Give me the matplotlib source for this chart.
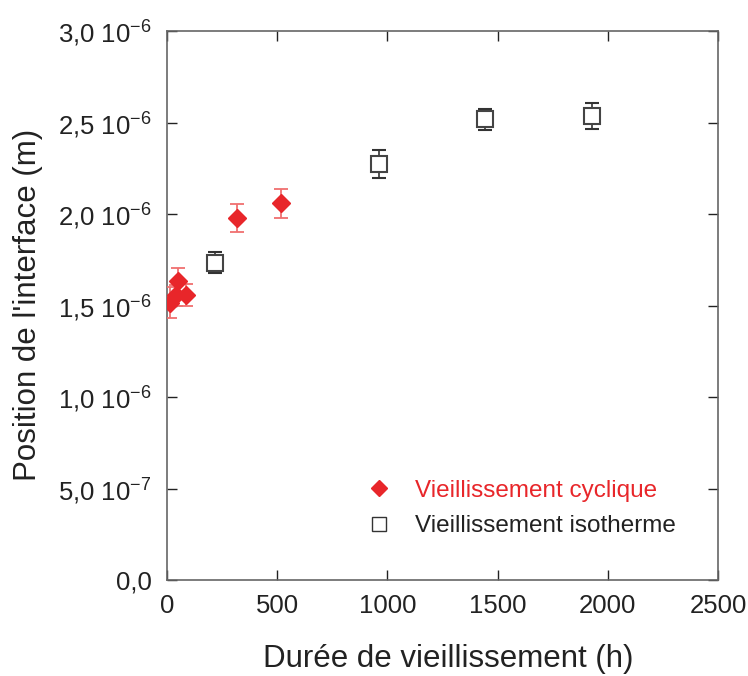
import matplotlib
matplotlib.use("Agg")
import matplotlib.pyplot as plt
from matplotlib.ticker import FixedLocator, FixedFormatter
from matplotlib.lines import Line2D

plt.rcParams['font.family'] = ['Liberation Sans', 'DejaVu Sans']
plt.rcParams['mathtext.fontset'] = 'custom'
plt.rcParams['mathtext.rm'] = 'Liberation Sans'
plt.rcParams['mathtext.it'] = 'Liberation Sans:italic'
plt.rcParams['mathtext.bf'] = 'Liberation Sans:bold'

# Data
cyc_x = [12, 40, 52, 88, 318, 515]
cyc_y = [1.515e-6, 1.555e-6, 1.633e-6, 1.558e-6, 1.978e-6, 2.058e-6]
cyc_err = [0.085e-6, 0.06e-6, 0.07e-6, 0.062e-6, 0.077e-6, 0.079e-6]

iso_x = [216, 963, 1445, 1927]
iso_y = [1.733e-6, 2.275e-6, 2.518e-6, 2.535e-6]
iso_err = [0.057e-6, 0.076e-6, 0.058e-6, 0.071e-6]

yticks = [0, 0.5e-6, 1.0e-6, 1.5e-6, 2.0e-6, 2.5e-6, 3.0e-6]
ytick_labels = ["0,0", "5,0 10$^{-7}$", "1,0 10$^{-6}$", "1,5 10$^{-6}$",
                "2,0 10$^{-6}$", "2,5 10$^{-6}$", "3,0 10$^{-6}$"]
xticks = [0, 500, 1000, 1500, 2000, 2500]
series_labels = ['Vieillissement cyclique', 'Vieillissement isotherme']

fig = plt.figure(figsize=(7.48, 6.76), dpi=100)
ax = fig.add_axes([0.2233, 0.142, 0.7366, 0.812])

red = '#e8262a'
ax.errorbar(cyc_x, cyc_y, yerr=cyc_err, fmt='D', color=red, ms=9.5,
            ecolor='#f07070', elinewidth=1.3, capsize=5, capthick=1.3,
            zorder=3)
ax.errorbar(iso_x, iso_y, yerr=iso_err, fmt='s', mfc='white', mec='#444444',
            mew=1.5, ms=11, ecolor='#333333', elinewidth=1.2, capsize=5,
            capthick=1.2, zorder=3)

ax.set_xlim(0, 2500)
ax.set_ylim(0, 3.0e-6)
ax.xaxis.set_major_locator(FixedLocator(xticks))
ax.yaxis.set_major_locator(FixedLocator(yticks))
ax.yaxis.set_major_formatter(FixedFormatter(ytick_labels))
ax.tick_params(direction='in', top=True, right=True, length=7, width=1,
               labelsize=18.5, colors='#222222')
ax.tick_params(axis='x', pad=10)
ax.tick_params(axis='y', pad=11)
for s in ax.spines.values():
    s.set_color('#666666')
    s.set_linewidth(1.2)

ax.set_xlabel('Durée de vieillissement (h)', fontsize=22.5, color='#222222',
              va='center')
ax.xaxis.set_label_coords(0.511, -0.1436)
ax.set_ylabel("Position de l'interface (m)", fontsize=22.5, color='#222222',
              va='center')
ax.yaxis.set_label_coords(-0.2527, 0.502)

h1 = Line2D([], [], marker='D', color=red, ls='none', ms=8)
h2 = Line2D([], [], marker='s', mfc='white', mec='#333333', mew=1.0, ls='none', ms=10)
leg = ax.legend([h1, h2], series_labels, loc='lower left', bbox_to_anchor=(0.318, 0.038),
                frameon=False, fontsize=17.5, handletextpad=0.9, labelspacing=0.55,
                handlelength=1.2)
leg.get_texts()[0].set_color(red)
leg.get_texts()[1].set_color('#222222')

fig.savefig('out.png', dpi=100)
